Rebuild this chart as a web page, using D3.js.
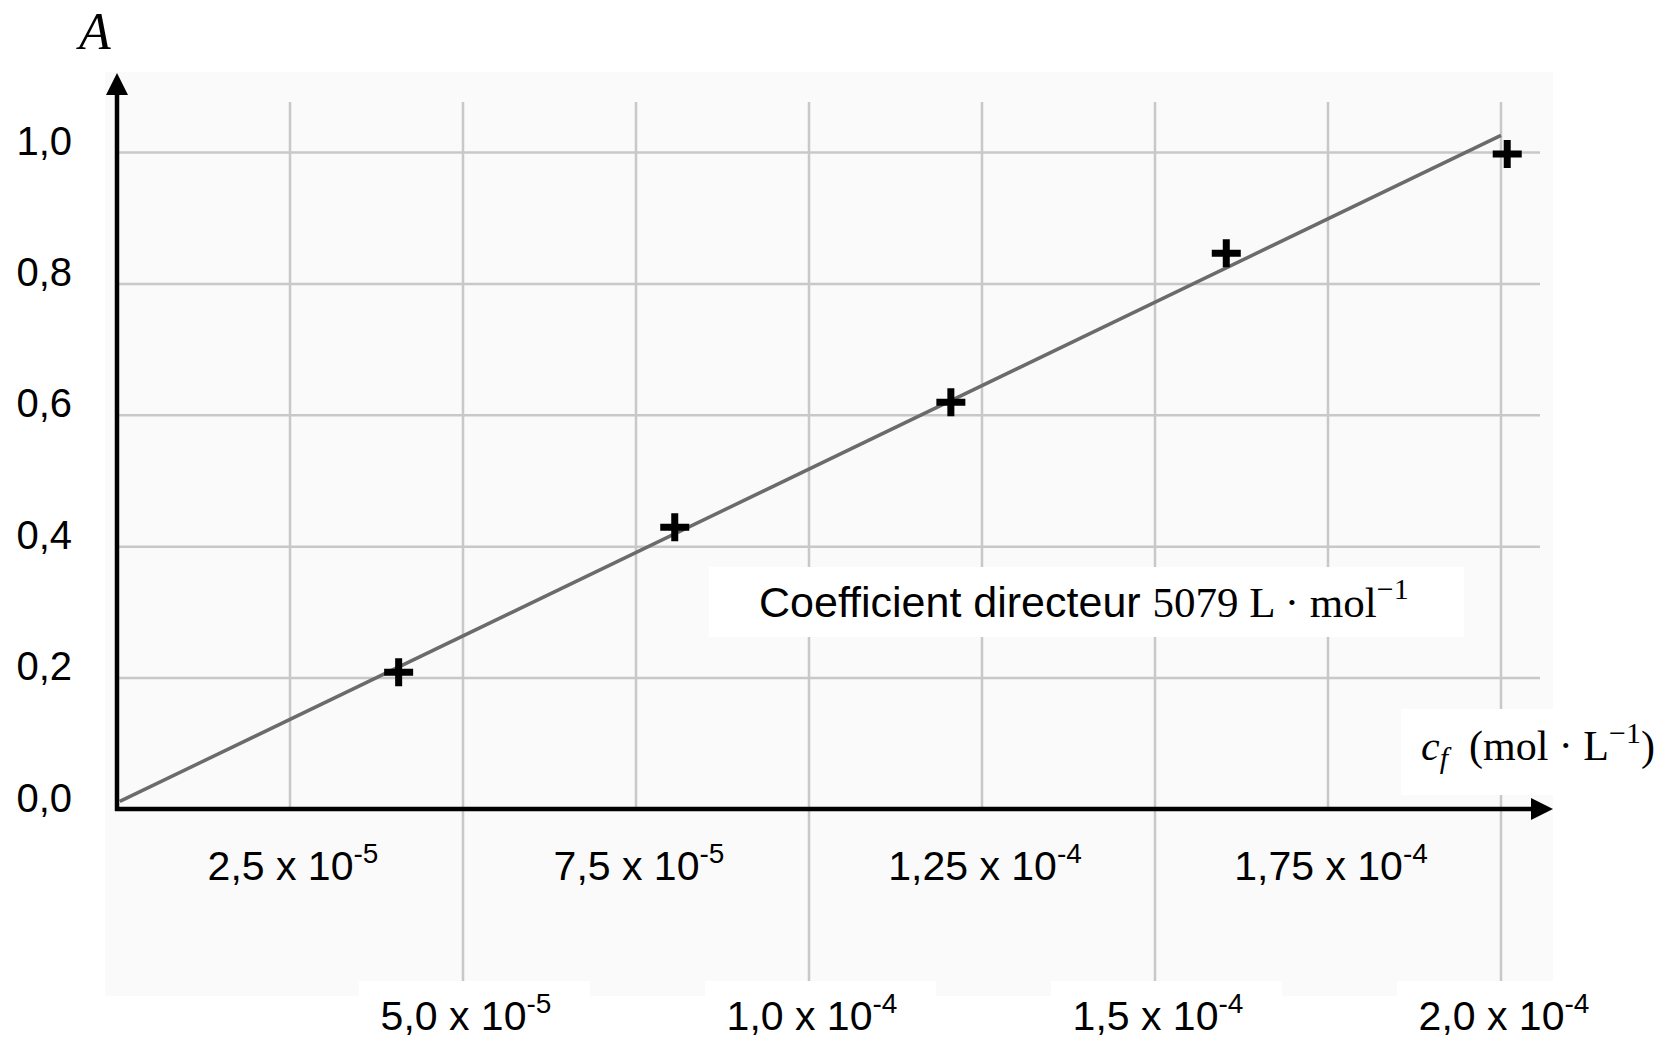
<!DOCTYPE html>
<html>
<head>
<meta charset="utf-8">
<script src="https://cdn.jsdelivr.net/npm/d3@7"></script>
<style>
  body { margin: 0; background: #fff; }
  svg { display: block; }
</style>
</head>
<body>
<svg id="chart" width="1668" height="1040"></svg>
<script>
// measured points (c_f in mol/L, absorbance A)
const concentrations = [4.07e-5, 8.06e-5, 1.205e-4, 1.603e-4, 2.009e-4];
const absorbances = [0.208, 0.429, 0.619, 0.846, 0.997];

// regression line
const fitSlope = 5079;
const fitIntercept = 0.0095;
const fitRange = [4e-7, 2e-4];

const yTicks = [0, 0.2, 0.4, 0.6, 0.8, 1.0];
const xTicksUpper = [2.5e-5, 7.5e-5, 1.25e-4, 1.75e-4];
const xTicksLower = [5e-5, 1e-4, 1.5e-4, 2e-4];
const upperMantissas = ["2,5", "7,5", "1,25", "1,75"];
const upperExponents = ["-5", "-5", "-4", "-4"];
const lowerMantissas = ["5,0", "1,0", "1,5", "2,0"];
const lowerExponents = ["-5", "-4", "-4", "-4"];

const SANS = "'Liberation Sans', Arial, sans-serif";
const SERIF = "'Liberation Serif', 'Times New Roman', serif";

const svg = d3.select("#chart");

const x = d3.scaleLinear().domain([0, 2e-4]).range([117, 1501]);
const y = d3.scaleLinear().domain([0, 1]).range([809, 152]);

const gridColor = "#c8c8c8";
const gridTop = 102;
const gridRight = 1540;
const panelBottom = 996;

// light panel behind everything
svg.append("rect")
  .attr("x", 105).attr("y", 72)
  .attr("width", 1553 - 105).attr("height", panelBottom - 72)
  .attr("fill", "#fafafa");

// horizontal grid + y labels through d3 axis
const yAxis = d3.axisLeft(y)
  .tickValues(yTicks)
  .tickSize(-(gridRight - x(0)))
  .tickPadding(45)
  .tickFormat((d) => d3.format(".1f")(d).replace(".", ","));

const yAxisG = svg.append("g")
  .attr("transform", `translate(${x(0)},0)`)
  .call(yAxis);
yAxisG.select(".domain").remove();
yAxisG.selectAll(".tick line")
  .attr("stroke", gridColor)
  .attr("stroke-width", 2.5);
yAxisG.selectAll(".tick text")
  .attr("dy", "0.05em")
  .attr("fill", "#000")
  .style("font-family", SANS)
  .style("font-size", "40px");

// vertical grid: odd ticks stop at the axis, even ones run to the bottom
svg.append("g")
  .selectAll("line.upper")
  .data(xTicksUpper)
  .join("line")
  .attr("class", "upper")
  .attr("x1", (d) => x(d)).attr("x2", (d) => x(d))
  .attr("y1", gridTop).attr("y2", y(0))
  .attr("stroke", gridColor)
  .attr("stroke-width", 2.5);

svg.append("g")
  .selectAll("line.lower")
  .data(xTicksLower)
  .join("line")
  .attr("class", "lower")
  .attr("x1", (d) => x(d)).attr("x2", (d) => x(d))
  .attr("y1", gridTop).attr("y2", panelBottom)
  .attr("stroke", gridColor)
  .attr("stroke-width", 2.5);

// white boxes behind the lower labels
svg.append("g")
  .selectAll("rect")
  .data(xTicksLower)
  .join("rect")
  .attr("x", (d) => x(d) - 104)
  .attr("y", 981)
  .attr("width", 231)
  .attr("height", 59)
  .attr("fill", "#fff");

// white box behind the x axis title
svg.append("rect")
  .attr("x", 1401).attr("y", 709)
  .attr("width", 1668 - 1401).attr("height", 86)
  .attr("fill", "#fff");

// white box behind the slope note
svg.append("rect")
  .attr("x", 709).attr("y", 567)
  .attr("width", 1464 - 709).attr("height", 70)
  .attr("fill", "#fff");

// fitted line
const fitLine = d3.line()
  .x((d) => x(d))
  .y((d) => y(fitSlope * d + fitIntercept));

svg.append("path")
  .datum(fitRange)
  .attr("d", fitLine)
  .attr("fill", "none")
  .attr("stroke", "#6b6b6b")
  .attr("stroke-width", 3.5);

// axes with arrows
svg.append("line")
  .attr("x1", x(0)).attr("x2", x(0))
  .attr("y1", y(0) + 2).attr("y2", 90)
  .attr("stroke", "#000").attr("stroke-width", 4.5);
svg.append("path")
  .attr("d", `M${x(0)},73 L${x(0) - 11},95 L${x(0) + 11},95 Z`)
  .attr("fill", "#000");

svg.append("line")
  .attr("x1", x(0) - 2).attr("x2", 1536)
  .attr("y1", y(0)).attr("y2", y(0))
  .attr("stroke", "#000").attr("stroke-width", 4.5);
svg.append("path")
  .attr("d", `M1553,${y(0)} L1531,${y(0) - 11} L1531,${y(0) + 11} Z`)
  .attr("fill", "#000");

// data crosses
const points = concentrations.map((c, i) => ({ c, a: absorbances[i] }));
svg.append("g")
  .selectAll("path")
  .data(points)
  .join("path")
  .attr("transform", (d) => `translate(${x(d.c)},${y(d.a)})`)
  .attr("d", "M-14.5,0H14.5M0,-14V14")
  .attr("stroke", "#000")
  .attr("stroke-width", 7)
  .attr("fill", "none");

// x tick labels with superscript exponent
function tickLabels(values, mantissas, exponents, baseline) {
  const t = svg.append("g")
    .selectAll("text")
    .data(values)
    .join("text")
    .attr("x", (d) => x(d) + 3)
    .attr("y", baseline)
    .attr("text-anchor", "middle")
    .style("font-family", SANS)
    .style("font-size", "41px")
    .attr("fill", "#000");
  t.append("tspan").text((d, i) => mantissas[i] + " x 10");
  t.append("tspan")
    .attr("dy", -17)
    .style("font-size", "28px")
    .text((d, i) => exponents[i]);
}
tickLabels(xTicksUpper, upperMantissas, upperExponents, 880);
tickLabels(xTicksLower, lowerMantissas, lowerExponents, 1030);

// axis titles
svg.append("text")
  .attr("x", 79).attr("y", 49)
  .style("font-family", SERIF)
  .style("font-style", "italic")
  .style("font-size", "52px")
  .text("A");

const xTitle = svg.append("text")
  .attr("x", 1421).attr("y", 760)
  .style("font-family", SERIF)
  .style("font-size", "42px");
xTitle.append("tspan").style("font-style", "italic").text("c");
xTitle.append("tspan").attr("dy", 8).style("font-style", "italic").style("font-size", "30px").text("f");
xTitle.append("tspan").attr("dy", -8).text("\u2002(mol \u00b7 L");
xTitle.append("tspan").attr("dy", -17).style("font-size", "30px").text("\u22121");
xTitle.append("tspan").attr("dy", 17).text(")");

// slope note
const note = svg.append("text")
  .attr("x", 759).attr("y", 617)
  .style("font-size", "43px");
note.append("tspan").style("font-family", SANS).text("Coefficient directeur ");
note.append("tspan").style("font-family", SERIF).text("5079 L \u00b7 mol");
note.append("tspan").attr("dy", -18).style("font-family", SERIF).style("font-size", "30px").text("\u22121");
</script>
</body>
</html>
